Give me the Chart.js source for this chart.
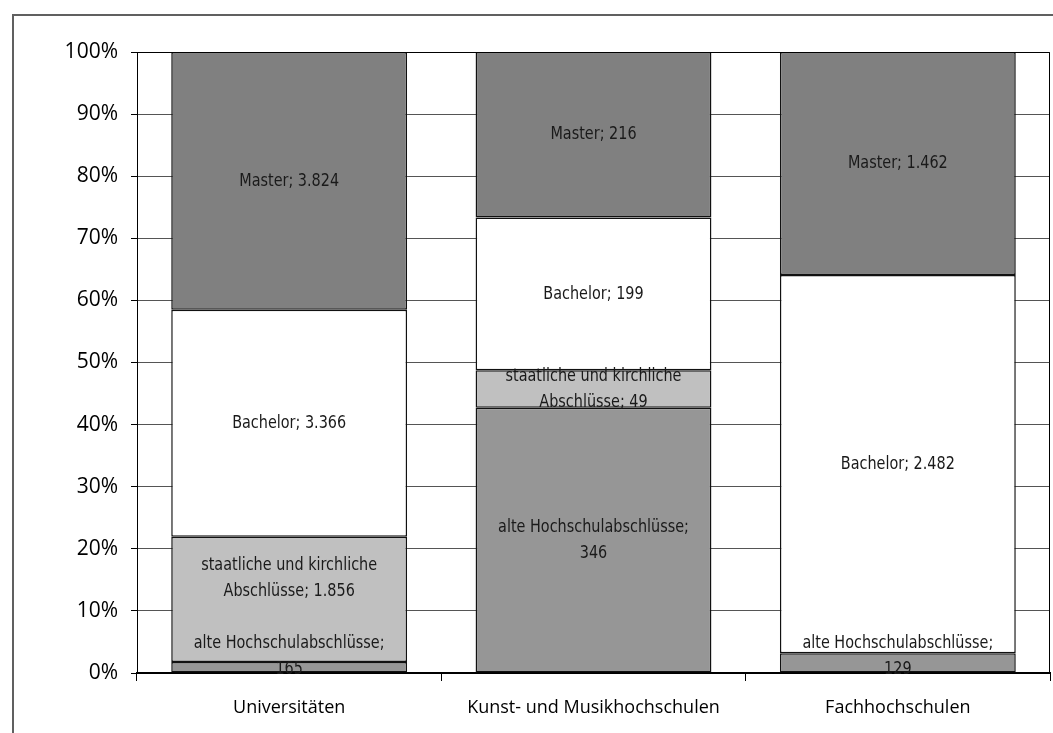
<!DOCTYPE html>
<html>
<head>
<meta charset="utf-8">
<script src="https://cdn.jsdelivr.net/npm/chart.js@4/dist/chart.umd.min.js"></script>
<style>
  html, body { margin: 0; padding: 0; background: #fff; }
  #wrap { position: relative; width: 1053px; height: 733px; overflow: hidden; }
  #frame { position: absolute; left: 12px; top: 14px; width: 1200px; height: 900px; border: 2px solid #606060; box-sizing: border-box; }
  canvas { position: absolute; left: 0; top: 0; }
</style>
</head>
<body>
<div id="wrap">
  <div id="frame"></div>
  <canvas id="c" width="1053" height="733"></canvas>
</div>
<script>
const categories = ["Universitäten", "Kunst- und Musikhochschulen", "Fachhochschulen"];
const seriesNames = ["alte Hochschulabschlüsse", "staatliche und kirchliche Abschlüsse", "Bachelor", "Master"];
const alte = [165, 346, 129];
const staatlich = [1856, 49, 0];
const bachelor = [3366, 199, 2482];
const master = [3824, 216, 1462];
const valueLabels = {
  alte: ["165", "346", "129"],
  staatlich: ["1.856", "49", ""],
  bachelor: ["3.366", "199", "2.482"],
  master: ["3.824", "216", "1.462"]
};
const labelPrefix = [
  ["alte Hochschulabschlüsse;"],
  ["staatliche und kirchliche", "Abschlüsse;"],
  ["Bachelor;"],
  ["Master;"]
];
const yTicks = [0, 10, 20, 30, 40, 50, 60, 70, 80, 90, 100];

const raw = [alte, staatlich, bachelor, master];
const totals = categories.map((_, i) => raw.reduce((s, arr) => s + arr[i], 0));
const pct = raw.map(arr => arr.map((v, i) => v / totals[i] * 100));
const colors = ["#969696", "#C0C0C0", "#FFFFFF", "#808080"];
const valKeys = ["alte", "staatlich", "bachelor", "master"];

const labelFont = '18px "DejaVu Sans Condensed", "Liberation Sans", sans-serif';
const squeeze = 0.89;

const labelPlugin = {
  id: 'segLabels',
  afterDatasetsDraw(chart) {
    const ctx = chart.ctx;
    const area = chart.chartArea;
    const lh = 26;
    ctx.save();
    ctx.font = labelFont;
    ctx.fillStyle = '#1a1a1a';
    ctx.textAlign = 'center';
    ctx.textBaseline = 'middle';
    const nCat = categories.length;
    for (let i = 0; i < nCat; i++) {
      let prevTop = Infinity;
      chart.data.datasets.forEach((ds, di) => {
        if (raw[di][i] === 0) return;
        const bar = chart.getDatasetMeta(di).data[i];
        const props = bar.getProps(['x', 'y', 'base'], true);
        const val = valueLabels[valKeys[di]][i];
        const pre = labelPrefix[di];
        let lines;
        if (di === 1) lines = [pre[0], pre[1] + ' ' + val];
        else if (di === 0) lines = [pre[0], val];
        else lines = [pre[0] + ' ' + val];
        const half = (lines.length - 1) * lh / 2;
        let cy = (props.y + props.base) / 2;
        const maxCy = area.bottom - 17;
        if (cy > maxCy) cy = maxCy;
        const limit = prevTop - 2 * lh - half;
        if (cy > limit) cy = limit;
        lines.forEach((t, k) => {
          ctx.save();
          ctx.translate(props.x, cy - half + k * lh);
          ctx.scale(squeeze, 1);
          ctx.fillText(t, 0, 0);
          ctx.restore();
        });
        prevTop = cy - half;
      });
    }
    ctx.restore();
  }
};

const borderPlugin = {
  id: 'plotBorder',
  afterDraw(chart) {
    const a = chart.chartArea;
    const ctx = chart.ctx;
    ctx.save();
    ctx.strokeStyle = '#000';
    ctx.lineWidth = 1;
    ctx.beginPath();
    ctx.moveTo(Math.round(a.left) + 0.5, Math.round(a.top) + 0.5);
    ctx.lineTo(Math.round(a.right) - 0.5, Math.round(a.top) + 0.5);
    ctx.lineTo(Math.round(a.right) - 0.5, Math.round(a.bottom));
    ctx.stroke();
    ctx.restore();
  }
};

new Chart(document.getElementById('c'), {
  type: 'bar',
  data: {
    labels: categories,
    datasets: seriesNames.map((n, di) => ({
      label: n,
      data: pct[di],
      backgroundColor: colors[di],
      borderColor: '#111',
      borderWidth: 1.5,
      borderSkipped: false,
      barPercentage: 0.775,
      categoryPercentage: 1
    }))
  },
  options: {
    responsive: false,
    animation: false,
    layout: { padding: { top: 52, right: 3, left: 0, bottom: 0 } },
    plugins: { legend: { display: false }, tooltip: { enabled: false } },
    scales: {
      x: {
        stacked: true,
        offset: true,
        grid: { offset: true, drawOnChartArea: false, tickLength: 8, tickColor: '#000', lineWidth: 1 },
        border: { color: '#000', width: 2 },
        ticks: {
          color: '#000',
          padding: 16,
          font: { family: '"Open Sans", "Liberation Sans", sans-serif', size: 18 }
        },
        afterFit(scale) { scale.height = 60; }
      },
      y: {
        stacked: true,
        min: 0,
        max: 100,
        afterBuildTicks(scale) { scale.ticks = yTicks.map(v => ({ value: v })); },
        grid: { color: '#555', lineWidth: 1, tickLength: 6, tickColor: '#000' },
        border: { color: '#000', width: 1 },
        ticks: {
          color: '#000',
          padding: 13,
          font: { family: '"Open Sans", "Liberation Sans", sans-serif', size: 21 },
          callback: v => v + '%'
        },
        afterFit(scale) { scale.width = 137; }
      }
    }
  },
  plugins: [labelPlugin, borderPlugin]
});
</script>
</body>
</html>
